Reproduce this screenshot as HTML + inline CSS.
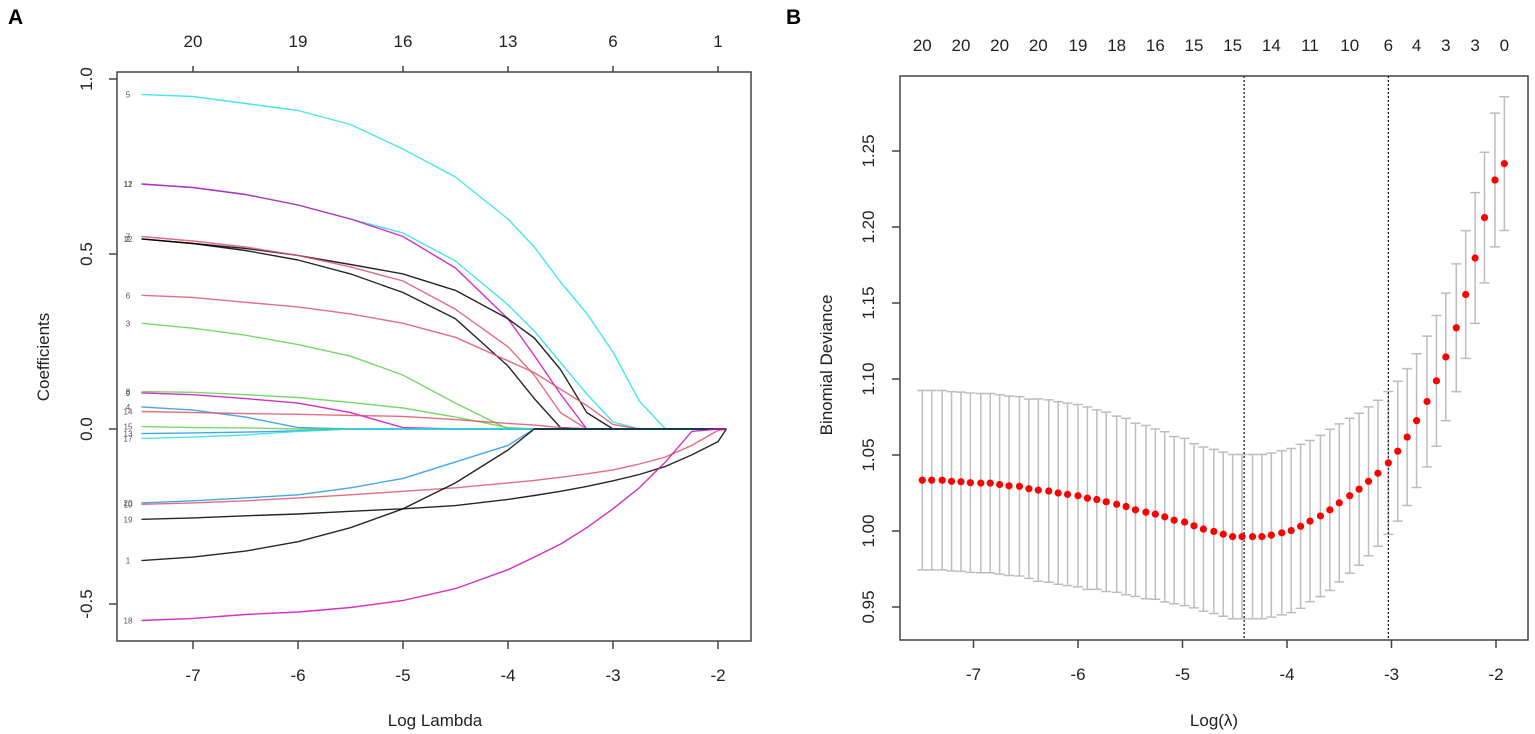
<!DOCTYPE html>
<html><head><meta charset="utf-8"><style>
html,body{margin:0;padding:0;background:#fff;}
svg{display:block;font-family:"Liberation Sans",Arial,sans-serif;}
</style></head><body>
<svg id="chart" width="1535" height="734" viewBox="0 0 1535 734">
<text x="8" y="24" font-size="21" font-weight="bold">A</text>
<text x="786" y="24" font-size="21" font-weight="bold">B</text>
<g id="pa"></g>
<g id="pb"></g>
</svg>
<script>
// ---------- Panel A data ----------
const lambdaKnots = [-7.49,-7,-6.5,-6,-5.5,-5,-4.5,-4,-3.75,-3.5,-3.25,-3,-2.75,-2.5,-2.25,-2,-1.92];
const topCountsA = ["20","19","16","13","6","1"];
const xTicksA = [-7,-6,-5,-4,-3,-2];
const yTicksA = [-0.5,0,0.5,1.0];
const yTickLabelsA = ["-0.5","0.0","0.5","1.0"];
const varLabels = ["5","12","11","2","12","7","6","3","8","9","4","14","15","13","17","20","10","19","1","18"];
const varColors = ["#28E2E5","#28E2E5","#CD0BBC","#000000","#000000","#DF536B","#DF536B","#61D04F","#61D04F","#CD0BBC","#2297E6","#DF536B","#61D04F","#2297E6","#28E2E5","#2297E6","#DF536B","#000000","#000000","#CD0BBC"];
const coef5  = [0.956,0.95,0.93,0.91,0.87,0.80,0.72,0.60,0.52,0.42,0.33,0.22,0.08,0,0,0,0];
const coef12 = [0.70,0.69,0.67,0.64,0.60,0.56,0.48,0.355,0.28,0.19,0.10,0.02,0,0,0,0,0];
const coef11 = [0.70,0.69,0.67,0.64,0.60,0.55,0.46,0.315,0.21,0.10,0,0,0,0,0,0,0];
const coef2  = [0.543,0.53,0.516,0.496,0.47,0.443,0.396,0.315,0.26,0.17,0.047,0,0,0,0,0,0];
const coef12b= [0.543,0.53,0.51,0.483,0.443,0.39,0.315,0.18,0.087,0.004,0,0,0,0,0,0,0];
const coef7  = [0.55,0.537,0.52,0.496,0.463,0.423,0.342,0.235,0.154,0.047,0,0,0,0,0,0,0];
const coef6  = [0.382,0.376,0.362,0.349,0.329,0.302,0.262,0.195,0.161,0.114,0.067,0.013,0,0,0,0,0];
const coef3  = [0.302,0.288,0.268,0.241,0.208,0.154,0.074,0,0,0,0,0,0,0,0,0,0];
const coef8  = [0.107,0.105,0.098,0.09,0.076,0.06,0.034,0.004,0,0,0,0,0,0,0,0,0];
const coef9  = [0.103,0.098,0.087,0.074,0.047,0.004,0,0,0,0,0,0,0,0,0,0,0];
const coef4  = [0.063,0.054,0.034,0.004,0,0,0,0,0,0,0,0,0,0,0,0,0];
const coef14 = [0.05,0.047,0.044,0.042,0.039,0.036,0.027,0.016,0.011,0.004,0,0,0,0,0,0,0];
const coef15 = [0.007,0.004,0.003,0,0,0,0,0,0,0,0,0,0,0,0,0,0];
const coef13 = [-0.013,-0.011,-0.009,-0.005,0,0,0,0,0,0,0,0,0,0,0,0,0];
const coef17 = [-0.027,-0.023,-0.017,-0.007,0,0,0,0,0,0,0,0,0,0,0,0,0];
const coef20 = [-0.211,-0.205,-0.197,-0.188,-0.168,-0.141,-0.094,-0.047,0,0,0,0,0,0,0,0,0];
const coef10 = [-0.215,-0.211,-0.205,-0.197,-0.188,-0.178,-0.168,-0.154,-0.147,-0.138,-0.128,-0.117,-0.1,-0.08,-0.047,-0.004,0];
const coef19 = [-0.258,-0.254,-0.248,-0.243,-0.235,-0.228,-0.219,-0.201,-0.19,-0.178,-0.164,-0.148,-0.13,-0.107,-0.074,-0.036,0];
const coef1  = [-0.376,-0.366,-0.349,-0.322,-0.282,-0.228,-0.154,-0.06,0,0,0,0,0,0,0,0,0];
const coef18 = [-0.547,-0.541,-0.53,-0.523,-0.51,-0.49,-0.456,-0.402,-0.366,-0.329,-0.282,-0.228,-0.168,-0.094,-0.007,0,0];
const coefSeries = [coef5,coef12,coef11,coef2,coef12b,coef7,coef6,coef3,coef8,coef9,coef4,coef14,coef15,coef13,coef17,coef20,coef10,coef19,coef1,coef18];

// ---------- Panel B data ----------
const logLambda = [-7.49,-7.40,-7.30,-7.21,-7.12,-7.03,-6.93,-6.84,-6.75,-6.66,-6.56,-6.47,-6.38,-6.28,-6.19,-6.10,-6.00,-5.91,-5.82,-5.73,-5.63,-5.54,-5.45,-5.35,-5.26,-5.17,-5.08,-4.98,-4.89,-4.80,-4.70,-4.61,-4.52,-4.43,-4.33,-4.24,-4.15,-4.05,-3.96,-3.87,-3.78,-3.68,-3.59,-3.50,-3.40,-3.31,-3.22,-3.13,-3.03,-2.94,-2.85,-2.76,-2.66,-2.57,-2.48,-2.38,-2.29,-2.20,-2.11,-2.01,-1.92];
const cvMean = [1.0334,1.0334,1.0334,1.0327,1.0324,1.0318,1.0315,1.0315,1.0306,1.0297,1.0294,1.0278,1.0269,1.0263,1.0250,1.0241,1.0232,1.0216,1.0207,1.0192,1.0176,1.0161,1.0139,1.0124,1.0111,1.0093,1.0071,1.0059,1.0034,1.0013,0.9997,0.9979,0.9963,0.9963,0.9963,0.9963,0.9973,0.9988,1.0003,1.0031,1.0065,1.0099,1.0139,1.0185,1.0232,1.0275,1.0327,1.0380,1.0448,1.0525,1.0618,1.0726,1.0852,1.0988,1.1145,1.1337,1.1556,1.1796,1.2062,1.2309,1.2417];
const cvSE = [0.059,0.059,0.059,0.059,0.059,0.059,0.059,0.059,0.059,0.059,0.059,0.059,0.060,0.060,0.060,0.060,0.060,0.060,0.059,0.059,0.058,0.058,0.057,0.057,0.056,0.056,0.055,0.055,0.054,0.054,0.054,0.054,0.054,0.054,0.054,0.054,0.054,0.054,0.054,0.054,0.053,0.053,0.053,0.052,0.051,0.050,0.049,0.048,0.047,0.046,0.045,0.044,0.043,0.043,0.042,0.042,0.042,0.043,0.043,0.044,0.044];
const topCountsB = ["20","20","20","20","19","18","16","15","15","14","11","10","6","4","3","3","0"];
const topCountIdx = [0,4,8,12,16,20,24,28,32,36,40,44,48,51,54,57,60];
const xTicksB = [-7,-6,-5,-4,-3,-2];
const yTicksB = [0.95,1.00,1.05,1.10,1.15,1.20,1.25];
const yTickLabelsB = ["0.95","1.00","1.05","1.10","1.15","1.20","1.25"];
const lambdaMin = -4.41, lambda1se = -3.03;

const NS="http://www.w3.org/2000/svg";
function mk(parent,tag,attrs,text){const e=document.createElementNS(NS,tag);for(const k in attrs)e.setAttribute(k,attrs[k]);if(text!==undefined)e.textContent=text;parent.appendChild(e);return e;}

// ---------- Draw A ----------
(function(){
const g=document.getElementById('pa');
const L=117,R=751,T=72,B=641;
const xA=v=>193+(v+7)*105;
const yA=v=>429-v*350;
const box=mk(g,'rect',{x:L,y:T,width:R-L,height:B-T,fill:'none',stroke:'#444','stroke-width':1.5});


coefSeries.forEach((s,i)=>{
  let d='';
  s.forEach((v,j)=>{d+=(j?'L':'M')+xA(lambdaKnots[j]).toFixed(1)+','+yA(v).toFixed(1);});
  const p=mk(g,'path',{d:d,fill:'none',stroke:varColors[i],'stroke-width':1.4,'stroke-linejoin':'round','stroke-opacity':0.85});
  
  
  const t=mk(g,'text',{x:128,y:yA(s[0])+3,'font-size':8,fill:'#555','text-anchor':'middle'},varLabels[i]);
  
  
});
xTicksA.forEach((v,i)=>{
  const x=xA(v);
  mk(g,'line',{x1:x,x2:x,y1:B,y2:B+8,stroke:'#444','stroke-width':1.5});
  const t=mk(g,'text',{x:x,y:B+40,'font-size':17,'text-anchor':'middle',fill:'#222'},String(v));
  
  
  mk(g,'line',{x1:x,x2:x,y1:T,y2:T-6,stroke:'#444','stroke-width':1.5});
  const u=mk(g,'text',{x:x,y:47,'font-size':17,'text-anchor':'middle',fill:'#222'},topCountsA[i]);
  
  
});
yTicksA.forEach((v,i)=>{
  const y=yA(v);
  mk(g,'line',{x1:L,x2:L-8,y1:y,y2:y,stroke:'#444','stroke-width':1.5});
  const t=mk(g,'text',{x:0,y:0,'font-size':17,'text-anchor':'middle',fill:'#222',transform:`translate(92,${y}) rotate(-90)`},yTickLabelsA[i]);
  
  
});
const xt=mk(g,'text',{x:435,y:726,'font-size':17,'text-anchor':'middle',fill:'#222'},'Log Lambda');


const yt=mk(g,'text',{x:0,y:0,'font-size':17,'text-anchor':'middle',fill:'#222',transform:'translate(49,357) rotate(-90)'},'Coefficients');


})();

// ---------- Draw B ----------
(function(){
const g=document.getElementById('pb');
const L=900,R=1528,T=76,B=640;
const xB=v=>1287+(v+4)*104.5;
const yB=v=>607-(v-0.95)*1520;
const box=mk(g,'rect',{x:L,y:T,width:R-L,height:B-T,fill:'none',stroke:'#444','stroke-width':1.5});


logLambda.forEach((lv,i)=>{
  const x=xB(lv),y1=yB(cvMean[i]+cvSE[i]),y2=yB(cvMean[i]-cvSE[i]);
  const eb=mk(g,'path',{d:`M${x},${y1}L${x},${y2}M${x-5},${y1}L${x+5},${y1}M${x-5},${y2}L${x+5},${y2}`,stroke:'#bdbdbd','stroke-width':1.5,fill:'none'});
  
  
});
[lambdaMin,lambda1se].forEach((v,i)=>{
  const l=mk(g,'line',{x1:xB(v),x2:xB(v),y1:T,y2:B,stroke:'#222','stroke-width':1.3,'stroke-dasharray':'2,2'});
  
  
});
logLambda.forEach((lv,i)=>{
  const c=mk(g,'circle',{cx:xB(lv),cy:yB(cvMean[i]),r:3.6,fill:'#f00'});
  
  
});
xTicksB.forEach(v=>{
  const x=xB(v);
  mk(g,'line',{x1:x,x2:x,y1:B,y2:B+8,stroke:'#444','stroke-width':1.5});
  const t=mk(g,'text',{x:x,y:B+40,'font-size':17,'text-anchor':'middle',fill:'#222'},String(v));
  
  
});
topCountsB.forEach((s,i)=>{
  const t=mk(g,'text',{x:xB(logLambda[topCountIdx[i]]),y:51,'font-size':17,'text-anchor':'middle',fill:'#222'},s);
  
  
});
yTicksB.forEach((v,i)=>{
  const y=yB(v);
  mk(g,'line',{x1:L,x2:L-8,y1:y,y2:y,stroke:'#444','stroke-width':1.5});
  const t=mk(g,'text',{x:0,y:0,'font-size':17,'text-anchor':'middle',fill:'#222',transform:`translate(874,${y}) rotate(-90)`},yTickLabelsB[i]);
  
  
});
const xt=mk(g,'text',{x:1214,y:726,'font-size':17,'text-anchor':'middle',fill:'#222'},'Log(λ)');


const yt=mk(g,'text',{x:0,y:0,'font-size':17,'text-anchor':'middle',fill:'#222',transform:'translate(832,365) rotate(-90)'},'Binomial Deviance');


})();
</script>
</body></html>
